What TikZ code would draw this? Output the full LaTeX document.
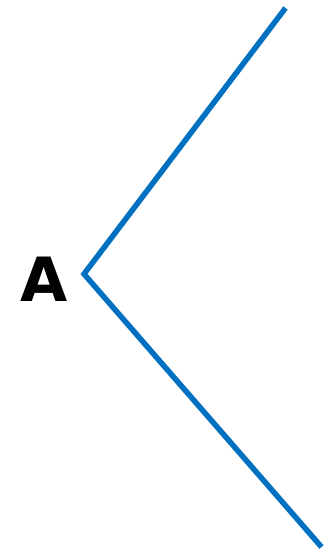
\documentclass[tikz,border=0pt]{standalone}
\usepackage{fontspec}
\setmainfont{DejaVu Sans}
\definecolor{lineblue}{HTML}{0070C0}
\begin{document}
\begin{tikzpicture}[x=1pt,y=-1pt,
  branch/.style={draw=lineblue,line width=5.5pt},
  lbl/.style={font=\fontsize{61}{61}\selectfont\bfseries,inner sep=0pt,anchor=base}]
\useasboundingbox (0,0) rectangle (324,551);
\coordinate (v) at (84,274);
\coordinate (t) at (285.5,8);
\coordinate (b) at (321.5,547);
\node[lbl] (A) at (44,301) {A};
\draw[branch] (t) -- (v) -- (b);
\end{tikzpicture}
\end{document}
